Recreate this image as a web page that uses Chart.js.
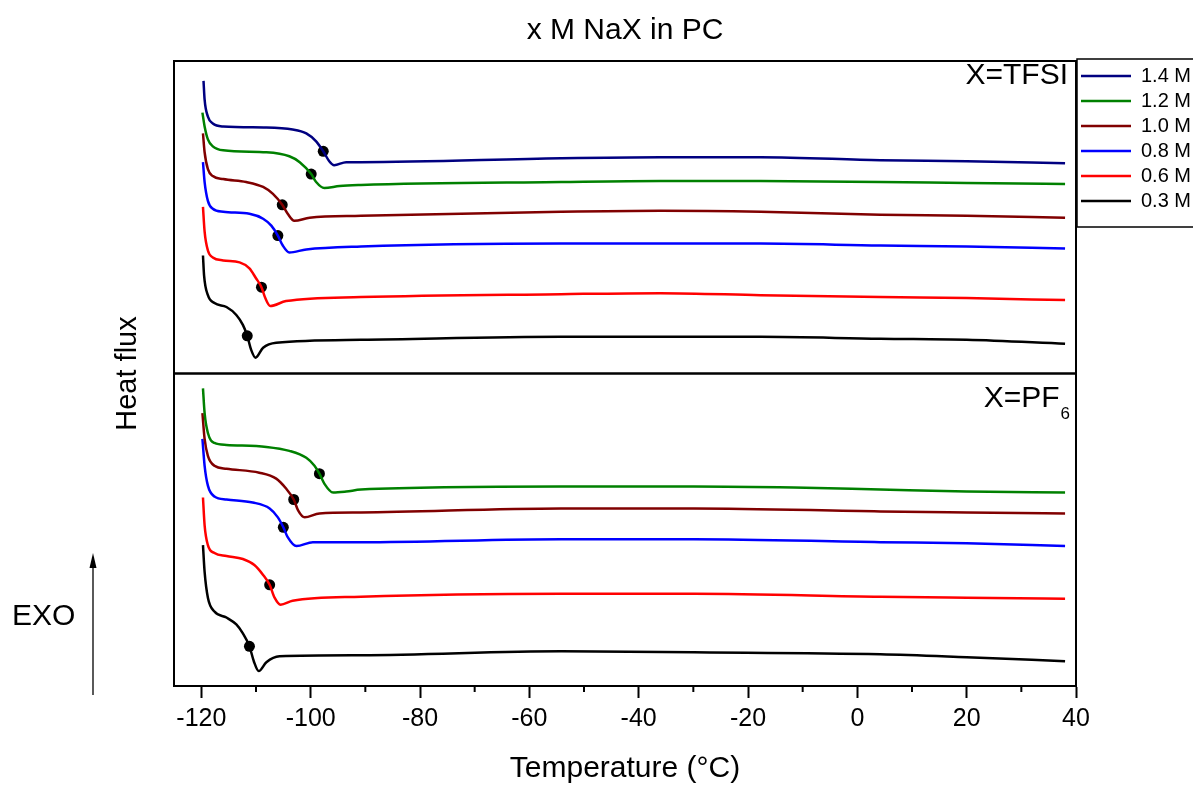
<!DOCTYPE html>
<html>
<head>
<meta charset="utf-8">
<script src="https://cdn.jsdelivr.net/npm/chart.js@4"></script>
<style>
  body { margin: 0; background: #fff; }
</style>
</head>
<body>
<canvas id="dscChart" width="1193" height="791"></canvas>
<script>
// concentrations (legend) and Origin-style colours
const concLabels = ["1.4 M", "1.2 M", "1.0 M", "0.8 M", "0.6 M", "0.3 M"];
const lineColors = ["#000080", "#008000", "#800000", "#0000ff", "#ff0000", "#000000"];
const panelNames = ["X=TFSI", "X=PF", "6"];

// x ticks (°C)
const tickValues = [-120, -100, -80, -60, -40, -20, 0, 20, 40];
const minorTicks = [-110, -90, -70, -50, -30, -10, 10, 30];

// top panel: NaTFSI, [T (°C), heat flux (a.u.)]
const tfsi14 = [[-119.6,29.5],[-119.4,27.6],[-118.8,25.9],[-117.9,25.2],[-116.0,24.9],[-108.1,24.8],[-103.3,24.6],[-100.8,24.2],[-99.0,23.4],[-97.7,22.4],[-96.6,21.4],[-95.7,21.0],[-93.5,21.3],[-90.8,21.3],[-54.2,21.7],[-36,21.8],[-17.7,21.8],[4.2,21.5],[20,21.4],[38,21.2]];
const tfsi12 = [[-119.8,26.3],[-119.4,24.9],[-118.8,23.6],[-117.9,22.9],[-116.0,22.5],[-108.1,22.3],[-103.9,21.9],[-102.0,21.3],[-99.9,20.1],[-99.0,19.3],[-97.5,18.7],[-94.7,18.9],[-90.8,19.0],[-54.2,19.3],[-36,19.4],[-17.7,19.4],[4.2,19.3],[20,19.2],[38,19.1]];
const tfsi10 = [[-119.7,24.2],[-119.4,22.3],[-118.8,20.6],[-117.9,19.9],[-116.0,19.6],[-111.8,19.3],[-108.7,18.8],[-106.9,18.1],[-105.2,17.0],[-104.2,16.1],[-103.0,15.4],[-100.2,15.7],[-90.8,15.9],[-54.2,16.3],[-36,16.4],[-17.7,16.3],[4.2,16.0],[20,15.9],[38,15.7]];
const tfsi08 = [[-119.7,21.3],[-119.4,19.3],[-118.8,17.4],[-117.9,16.6],[-116.0,16.3],[-111.2,16.1],[-108.7,15.6],[-107.2,14.9],[-106.0,13.9],[-105.1,12.9],[-103.9,12.2],[-100.8,12.5],[-90.8,12.8],[-54.2,13.1],[-36,13.1],[-17.7,13.1],[4.2,12.9],[20,12.8],[38,12.6]];
const tfsi06 = [[-119.7,16.8],[-119.4,14.3],[-118.8,12.4],[-117.9,11.7],[-116.0,11.4],[-113.0,11.2],[-111.2,10.6],[-110.0,9.6],[-109.0,8.7],[-108.3,7.6],[-107.4,6.8],[-104.5,7.3],[-90.8,7.7],[-54.2,8.0],[-36,8.1],[-17.7,7.9],[4.2,7.7],[20,7.6],[38,7.4]];
const tfsi03 = [[-119.7,11.9],[-119.5,9.9],[-118.8,7.9],[-117.6,7.1],[-115.4,6.7],[-113.6,5.9],[-112.4,4.9],[-111.6,3.8],[-110.9,2.4],[-110.1,1.6],[-108.7,2.6],[-106.3,3.1],[-90.8,3.4],[-54.2,3.7],[-36,3.7],[-17.7,3.7],[4.2,3.5],[20,3.4],[38,3.0]];

// bottom panel: NaPF6
const pf12 = [[-119.7,30.0],[-119.4,27.5],[-118.8,25.5],[-117.6,24.5],[-115.4,24.3],[-108.1,24.1],[-103.9,23.7],[-100.8,23.0],[-99.3,22.2],[-98.4,21.4],[-97.5,20.4],[-95.9,19.5],[-93.5,19.6],[-90.8,19.8],[-54.2,20.1],[-29.9,20.1],[-11.6,20.0],[4.2,19.8],[20,19.6],[38,19.5]];
const pf10 = [[-119.8,27.5],[-119.4,24.9],[-118.8,23.2],[-117.6,22.2],[-115.4,21.9],[-109.4,21.5],[-106.3,20.9],[-104.5,19.9],[-103.1,18.8],[-102.3,17.7],[-101.1,17.0],[-98.4,17.4],[-90.8,17.5],[-54.2,17.9],[-29.9,17.9],[4.2,17.6],[20,17.5],[38,17.4]];
const pf08 = [[-119.8,24.9],[-119.4,22.2],[-118.8,20.2],[-117.6,19.1],[-115.4,18.8],[-110.6,18.5],[-107.5,17.9],[-106.0,17.0],[-105.0,16.0],[-104.2,15.0],[-102.6,14.1],[-99.6,14.5],[-90.8,14.5],[-54.2,14.8],[-29.9,14.8],[4.2,14.5],[20,14.4],[38,14.1]];
const pf06 = [[-119.7,19.0],[-119.4,16.2],[-118.8,14.2],[-117.6,13.4],[-115.4,13.1],[-112.4,12.8],[-110.3,12.2],[-108.7,11.2],[-107.5,10.2],[-106.6,8.9],[-105.5,8.2],[-103.3,8.6],[-90.8,9.0],[-54.2,9.3],[-29.9,9.3],[4.2,9.0],[20,8.9],[38,8.8]];
const pf03 = [[-119.7,14.2],[-119.4,11.5],[-118.8,8.9],[-117.6,7.5],[-115.4,6.9],[-113.6,6.2],[-112.4,5.3],[-111.2,4.0],[-110.4,2.5],[-109.5,1.5],[-108.1,2.4],[-105.7,3.0],[-90.8,3.1],[-54.2,3.5],[-29.9,3.4],[4.2,3.2],[20,2.9],[38,2.5]];

// glass transition markers
const tgTfsi = [[-97.7,22.4],[-99.9,20.1],[-105.2,17.0],[-106.0,13.9],[-109.0,8.7],[-111.6,3.8]];
const tgPf6 = [[-98.4,21.4],[-103.1,18.8],[-105.0,16.0],[-107.5,10.2],[-111.2,4.0]];

const FONT = "'Liberation Sans', Arial, Helvetica, sans-serif";
Chart.defaults.font.family = FONT;
Chart.defaults.color = "#000";

function curve(label, data, color, axis, inLegend) {
  return {
    type: "line", label, data, yAxisID: axis, inLegend,
    borderColor: color, backgroundColor: color, borderWidth: 2.5,
    pointRadius: 0, cubicInterpolationMode: "monotone", fill: false,
  };
}
function dots(data, axis) {
  return {
    type: "line", label: "Tg", data, yAxisID: axis, showLine: false,
    pointRadius: 5.5, pointBackgroundColor: "#000", pointBorderWidth: 0,
  };
}

const topSets = [tfsi14, tfsi12, tfsi10, tfsi08, tfsi06, tfsi03];
const botSets = [null, pf12, pf10, pf08, pf06, pf03];

const datasets = [];
topSets.forEach((d, i) => datasets.push(curve(concLabels[i], d, lineColors[i], "yTop", true)));
botSets.forEach((d, i) => { if (d) datasets.push(curve(concLabels[i], d, lineColors[i], "yBot", false)); });
datasets.push(dots(tgTfsi, "yTop"), dots(tgPf6, "yBot"));

// frames, minor ticks, panel labels, EXO arrow, legend box
const decor = {
  id: "decor",
  afterDraw(chart) {
    const { ctx, chartArea: a, scales } = chart;
    const yT = scales.yTop, yB = scales.yBot, x = scales.x;
    ctx.save();
    ctx.strokeStyle = "#000";
    ctx.lineWidth = 2;
    ctx.strokeRect(a.left, yT.top, a.right - a.left, yT.bottom - yT.top);
    ctx.strokeRect(a.left, yB.top, a.right - a.left, yB.bottom - yB.top);
    minorTicks.forEach(v => {
      const px = x.getPixelForValue(v);
      ctx.beginPath();
      ctx.moveTo(px, a.bottom);
      ctx.lineTo(px, a.bottom + 6);
      ctx.stroke();
    });

    // legend box
    ctx.lineWidth = 1.5;
    ctx.strokeRect(a.right + 1, 59, 140, 168);

    ctx.fillStyle = "#000";
    ctx.textBaseline = "alphabetic";
    ctx.textAlign = "right";
    ctx.font = "30px " + FONT;
    ctx.fillText(panelNames[0], a.right - 8, yT.top + 23);
    ctx.font = "17px " + FONT;
    ctx.fillText(panelNames[2], a.right - 6, yB.top + 45);
    const w6 = ctx.measureText(panelNames[2]).width;
    ctx.font = "30px " + FONT;
    ctx.fillText(panelNames[1], a.right - 7 - w6, yB.top + 33);

    ctx.save();
    ctx.translate(128, (yT.top + yB.bottom) / 2);
    ctx.rotate(-Math.PI / 2);
    ctx.textAlign = "center";
    ctx.textBaseline = "middle";
    ctx.font = "29px " + FONT;
    ctx.fillText("Heat flux", 0, 0);
    ctx.restore();

    ctx.textAlign = "left";
    ctx.textBaseline = "middle";
    ctx.font = "30px " + FONT;
    ctx.fillText("EXO", 12, 617);

    ctx.lineWidth = 1.3;
    ctx.beginPath();
    ctx.moveTo(93, 695);
    ctx.lineTo(93, 565);
    ctx.stroke();
    ctx.beginPath();
    ctx.moveTo(93, 553);
    ctx.lineTo(89.5, 568);
    ctx.lineTo(96.5, 568);
    ctx.closePath();
    ctx.fill();
    ctx.restore();
  },
};

new Chart(document.getElementById("dscChart"), {
  data: { datasets },
  plugins: [decor],
  options: {
    responsive: false,
    animation: false,
    layout: { padding: { left: 174, right: 0, top: 0, bottom: 0 } },
    plugins: {
      tooltip: { enabled: false },
      title: {
        display: true,
        text: "x M NaX in PC",
        fullSize: false,
        font: { size: 30, weight: "normal" },
        padding: { top: 13, bottom: 12 },
        color: "#000",
      },
      legend: {
        position: "right",
        align: "start",
        fullSize: false,
        maxWidth: 117,
        labels: {
          usePointStyle: true,
          pointStyle: "line",
          pointStyleWidth: 50,
          font: { size: 20 },
          padding: 5,
          color: "#000",
          filter: (item, data) => data.datasets[item.datasetIndex].inLegend,
        },
      },
    },
    scales: {
      x: {
        type: "linear",
        min: -125,
        max: 40,
        afterBuildTicks: s => { s.ticks = tickValues.map(v => ({ value: v })); },
        ticks: { font: { size: 25 }, padding: 6, maxRotation: 0, autoSkip: false, color: "#000", callback: v => String(v) },
        grid: { drawOnChartArea: false, drawTicks: true, tickLength: 12, tickWidth: 2, tickColor: "#000" },
        border: { display: true, width: 2, color: "#000" },
        title: { display: true, text: "Temperature (°C)", font: { size: 30 }, padding: { top: 11, bottom: 4 }, color: "#000" },
      },
      yBot: { type: "linear", position: "left", stack: "panels", stackWeight: 1, min: 0, max: 31.5, display: false },
      yTop: { type: "linear", position: "left", stack: "panels", stackWeight: 1, min: 0, max: 31.5, display: false },
    },
  },
});
</script>
</body>
</html>
